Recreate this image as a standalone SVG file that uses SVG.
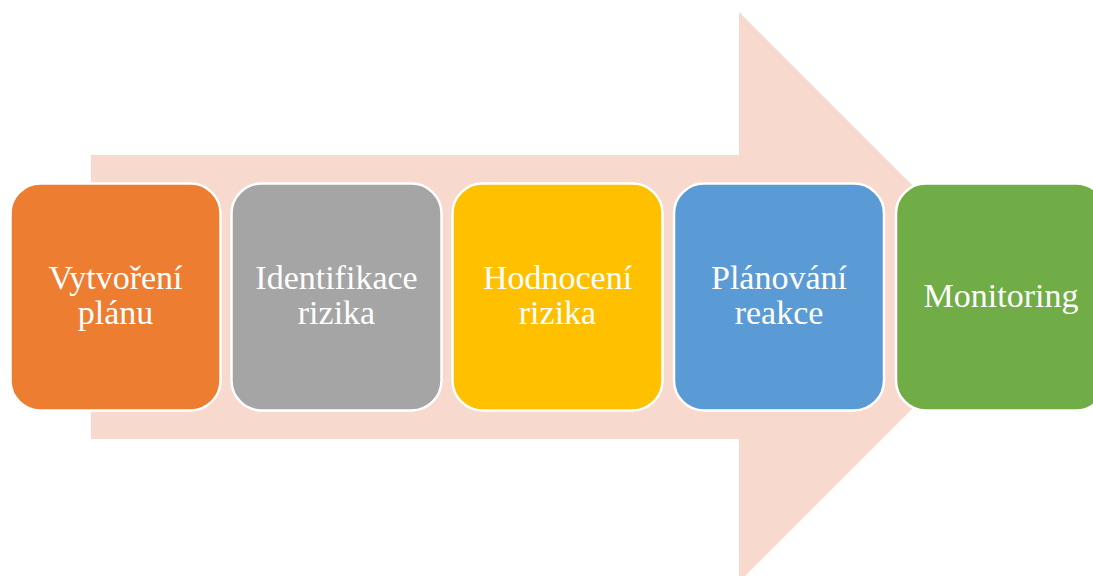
<svg xmlns="http://www.w3.org/2000/svg" width="1093" height="576" viewBox="0 0 1093 576">
  <style>
    .step { stroke: #FFFFFF; stroke-width: 2.5; }
    .label { font-family: "Liberation Serif", "Times New Roman", serif; font-size: 34px; fill: #FFFFFF; text-anchor: middle; }
  </style>
  <rect width="1093" height="576" fill="#FFFFFF"/>
  <!-- background process arrow -->
  <g id="process-arrow">
    <polygon points="91,155 739,155 739,12 1024,297 739,582 739,439 91,439" fill="#F7D9CE"/>
  </g>
  <g id="connectors"></g>
  <g id="step-1">
    <rect class="step" x="10.5" y="183.5" width="210" height="227" rx="30" fill="#ED7D31"/>
    <text class="label" x="115.5" y="289">Vytvoření</text>
    <text class="label" x="115.5" y="324">plánu</text>
  </g>
  <g id="step-2">
    <rect class="step" x="231.5" y="183.5" width="210" height="227" rx="30" fill="#A5A5A5"/>
    <text class="label" x="336.5" y="289">Identifikace</text>
    <text class="label" x="336.5" y="324">rizika</text>
  </g>
  <g id="step-3">
    <rect class="step" x="452.5" y="183.5" width="210" height="227" rx="30" fill="#FFC000"/>
    <text class="label" x="557.5" y="289">Hodnocení</text>
    <text class="label" x="557.5" y="324">rizika</text>
  </g>
  <g id="step-4">
    <rect class="step" x="674" y="183.5" width="210" height="227" rx="30" fill="#5B9BD5"/>
    <text class="label" x="779" y="289">Plánování</text>
    <text class="label" x="779" y="324">reakce</text>
  </g>
  <g id="step-5">
    <rect class="step" x="896" y="183.5" width="210" height="227" rx="30" fill="#70AD47"/>
    <text class="label" x="1001" y="307">Monitoring</text>
  </g>
</svg>
